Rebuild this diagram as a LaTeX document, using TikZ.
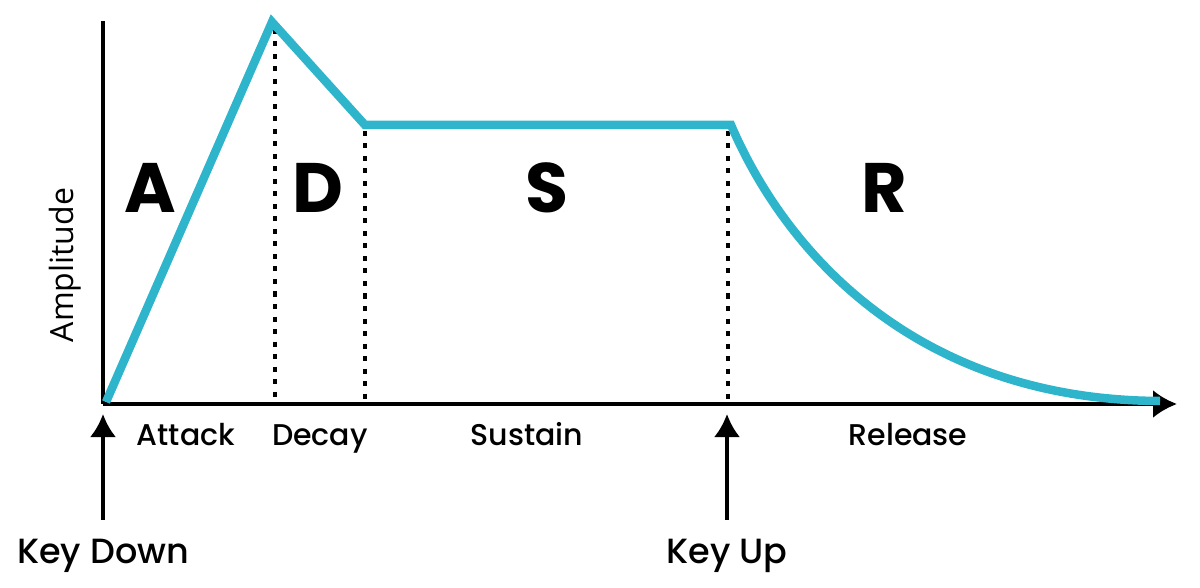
\documentclass[tikz,border=0pt]{standalone}
\usepackage{fontspec}
\setmainfont{Poppins}[UprightFont=* Medium, BoldFont=* Bold]
\newfontfamily\axisfont{Open Sans}
\definecolor{envTeal}{RGB}{46, 181, 203}
\usetikzlibrary{arrows.meta}

\begin{document}
\begin{tikzpicture}[
    x=1pt, y=-1pt,
    axis/.style={line width=3.5pt, black},
    axisarrow/.style={axis, -{Latex[length=24pt, width=28pt]}},
    keyarrow/.style={line width=3.5pt, -{Latex[length=23pt, width=26pt]}},
    envelope/.style={line width=8.5pt, draw=envTeal, line join=miter},
    marker/.style={line width=4.3pt, dash pattern=on 5pt off 7.5pt},
    phase/.style={font=\bfseries\fontsize{70}{70}\selectfont, anchor=base, inner sep=0pt},
    stage/.style={font=\fontsize{30}{30}\selectfont, anchor=base, inner sep=0pt},
    keylabel/.style={font=\fontsize{35}{35}\selectfont, anchor=base, inner sep=0pt}
  ]
    \useasboundingbox (0,0) rectangle (1200,588);

    % Envelope corners
    \coordinate (O) at (103,404);
    \coordinate (YTOP) at (103,21);
    \coordinate (XEND) at (1177,404);
    \coordinate (ATK) at (106,402);
    \coordinate (PEAK) at (272,22);
    \coordinate (SUS) at (365,125);
    \coordinate (REL) at (731,125);
    \coordinate (FIN) at (1160,401);

    % Dotted phase markers
    \draw[marker] (275,29) -- (275,404);
    \draw[marker] (365,131) -- (365,404);
    \draw[marker] (728,131) -- (728,404);

    % Axes
    \draw[axis] (YTOP) -- (O);
    \draw[axisarrow] (O) -- (XEND);

    % ADSR curve
    \draw[envelope] (ATK) -- (PEAK) -- (SUS) -- (REL)
      .. controls (790,262) and (925,400) .. (FIN);

    % Phase letters
    \node[phase] (A) at (150,213) {A};
    \node[phase] (D) at (318,213) {D};
    \node[phase] (S) at (547,213) {S};
    \node[phase] (R) at (884,213) {R};

    % Stage names below the axis
    \node[stage] (attack) at (186,445) {Attack};
    \node[stage] (decay) at (320,445) {Decay};
    \node[stage] (sustain) at (527,445) {Sustain};
    \node[stage] (release) at (908,445) {Release};

    % Key events
    \node[keylabel] (keydown) at (103,563) {Key Down};
    \node[keylabel] (keyup) at (727,563) {Key Up};
    \coordinate (kdtail) at (103,520);
    \coordinate (kdtip) at (103,414);
    \coordinate (kutail) at (727,520);
    \coordinate (kutip) at (727,414);
    \draw[keyarrow] (kdtail) -- (kdtip);
    \draw[keyarrow] (kutail) -- (kutip);

    % Vertical axis label
    \node[font=\axisfont\fontsize{32}{32}\selectfont, rotate=90] (amp) at (65,265) {Amplitude};
  \end{tikzpicture}
\end{document}
